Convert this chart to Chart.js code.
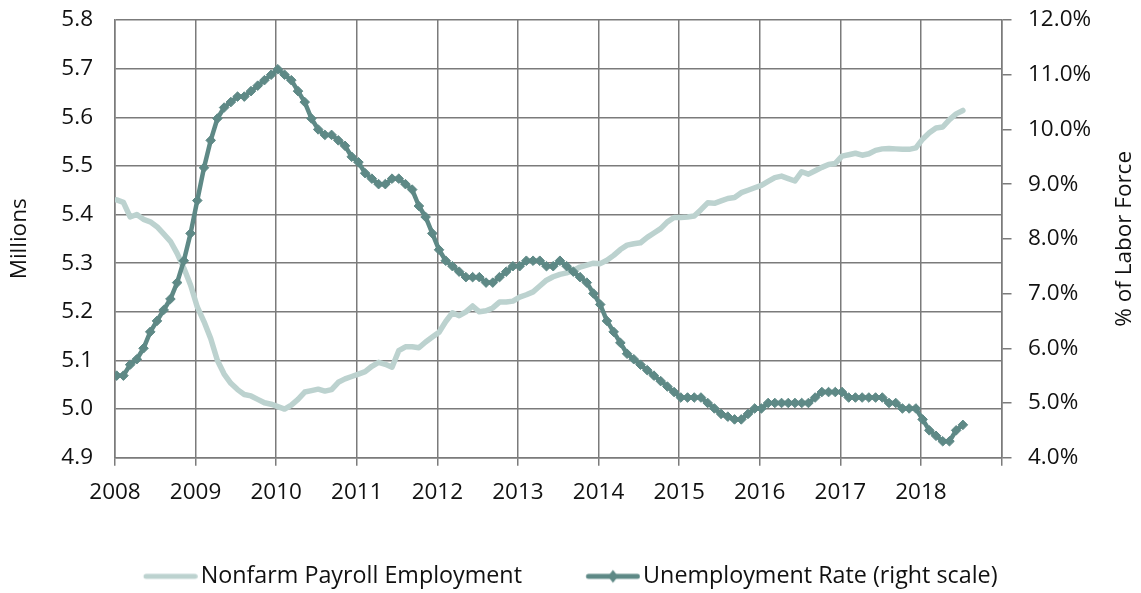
<!DOCTYPE html>
<html>
<head>
<meta charset="utf-8">
<script src="https://cdn.jsdelivr.net/npm/chart.js@4.4.1/dist/chart.umd.min.js"></script>
<style>
html,body{margin:0;padding:0;background:#ffffff;}
#wrap{width:1141px;height:593px;position:relative;}
</style>
</head>
<body>
<div id="wrap"><canvas id="c" width="1141" height="593"></canvas></div>
<script>
// ---- Data (monthly, Jan 2008 - Jul 2018) ----
const yearLabels = ['2008','2009','2010','2011','2012','2013','2014','2015','2016','2017','2018'];
const seriesNames = ['Nonfarm Payroll Employment', 'Unemployment Rate (right scale)'];
const leftTitle = 'Millions';
const rightTitle = '% of Labor Force';

const payroll = [
  5.430, 5.425, 5.395, 5.400, 5.390, 5.385, 5.375, 5.360, 5.345, 5.320, 5.290, 5.255,
  5.210, 5.180, 5.145, 5.100, 5.072, 5.053, 5.040, 5.030, 5.027, 5.020, 5.013, 5.010,
  5.005, 5.000, 5.008, 5.020, 5.035, 5.038, 5.041, 5.037, 5.040, 5.055, 5.062, 5.067,
  5.072, 5.077, 5.088, 5.096, 5.092, 5.086, 5.120, 5.128, 5.128, 5.126, 5.138, 5.148,
  5.158, 5.180, 5.198, 5.192, 5.200, 5.212, 5.200, 5.202, 5.208, 5.220, 5.220, 5.222,
  5.230, 5.235, 5.241, 5.253, 5.265, 5.272, 5.277, 5.280, 5.285, 5.292, 5.296, 5.300,
  5.299, 5.306, 5.316, 5.328, 5.337, 5.340, 5.342, 5.353, 5.362, 5.371, 5.385, 5.394,
  5.394, 5.395, 5.397, 5.410, 5.424, 5.423, 5.428, 5.433, 5.435, 5.445, 5.450, 5.455,
  5.460, 5.468, 5.476, 5.479, 5.474, 5.469, 5.488, 5.483, 5.490, 5.497, 5.503, 5.505,
  5.520, 5.523, 5.526, 5.522, 5.525, 5.532, 5.535, 5.536, 5.535, 5.534, 5.534, 5.537,
  5.555, 5.568, 5.578, 5.580, 5.595, 5.607, 5.614
];

const unemployment = [
  5.5, 5.5, 5.7, 5.8, 6.0, 6.3, 6.5, 6.7, 6.9, 7.2, 7.6, 8.1,
  8.7, 9.3, 9.8, 10.2, 10.4, 10.5, 10.6, 10.6, 10.7, 10.8, 10.9, 11.0,
  11.1, 11.0, 10.9, 10.7, 10.5, 10.2, 10.0, 9.9, 9.9, 9.8, 9.7, 9.5,
  9.4, 9.2, 9.1, 9.0, 9.0, 9.1, 9.1, 9.0, 8.9, 8.6, 8.4, 8.1,
  7.8, 7.6, 7.5, 7.4, 7.3, 7.3, 7.3, 7.2, 7.2, 7.3, 7.4, 7.5,
  7.5, 7.6, 7.6, 7.6, 7.5, 7.5, 7.6, 7.5, 7.4, 7.3, 7.2, 7.0,
  6.8, 6.5, 6.3, 6.1, 5.9, 5.8, 5.7, 5.6, 5.5, 5.4, 5.3, 5.2,
  5.1, 5.1, 5.1, 5.1, 5.0, 4.9, 4.8, 4.75, 4.7, 4.7, 4.8, 4.9,
  4.9, 5.0, 5.0, 5.0, 5.0, 5.0, 5.0, 5.0, 5.1, 5.2, 5.2, 5.2,
  5.2, 5.1, 5.1, 5.1, 5.1, 5.1, 5.1, 5.0, 5.0, 4.9, 4.9, 4.9,
  4.7, 4.5, 4.4, 4.3, 4.3, 4.5, 4.6
];

// ---- Styling ----
const LIGHT = '#bcd2cf';
const DARK = '#5e8986';
const GRID = '#7b7b7b';
const TEXT = '#111111';
const FONT = "'Open Sans', 'Liberation Sans', sans-serif";
const FS = 22.5;
const LEG_FS = 23.3;
const monthsPerYear = 12;

// month index -> x (observations sit a little after the first of the month)
function toPoints(arr) { return arr.map((v, i) => ({ x: i + 0.25, y: v })); }

// Legend sample images (line, and line with diamond)
const LEG_BOX = 45.5, LEG_LEN = 54;
function legendSample(color, withMarker) {
  const half = LEG_LEN - LEG_BOX / 2;
  const w = Math.ceil(half * 2), h = 16;
  const cv = document.createElement('canvas');
  cv.width = w; cv.height = h;
  const g = cv.getContext('2d');
  const x0 = w / 2 - LEG_BOX / 2, x1 = x0 + LEG_LEN;
  g.lineCap = 'round';
  g.lineWidth = 5;
  g.strokeStyle = color;
  g.beginPath(); g.moveTo(x0 + 2.5, h / 2); g.lineTo(x1 - 2.5, h / 2); g.stroke();
  if (withMarker) {
    const cx = (x0 + x1) / 2;
    g.fillStyle = color;
    g.beginPath();
    g.moveTo(cx, h / 2 - 6.5); g.lineTo(cx + 5, h / 2); g.lineTo(cx, h / 2 + 6.5); g.lineTo(cx - 5, h / 2);
    g.closePath(); g.fill();
  }
  return cv;
}
const samples = [legendSample(LIGHT, false), legendSample(DARK, true)];

const rightTitlePlugin = {
  id: 'rightTitle',
  afterDraw(chart) {
    const s = chart.scales.y1;
    const ctx = chart.ctx;
    ctx.save();
    ctx.font = FS + 'px ' + FONT;
    ctx.fillStyle = TEXT;
    ctx.textAlign = 'center';
    ctx.textBaseline = 'middle';
    ctx.translate(s.right - 16, (s.top + s.bottom) / 2);
    ctx.rotate(-Math.PI / 2);
    ctx.fillText(rightTitle, 0, 0);
    ctx.restore();
  }
};

const tickFont = { family: FONT, size: FS };

function fixVertical(width) {
  return function (s) {
    s.width = width;
    s.paddingTop = 0;
    s.paddingBottom = 0;
  };
}

new Chart(document.getElementById('c'), {
  type: 'line',
  data: {
    datasets: [
      {
        label: seriesNames[0],
        data: toPoints(payroll),
        yAxisID: 'y',
        borderColor: LIGHT,
        backgroundColor: LIGHT,
        borderWidth: 5.5,
        pointRadius: 0,
        borderJoinStyle: 'round',
        borderCapStyle: 'round',
        tension: 0,
        order: 1
      },
      {
        label: seriesNames[1],
        data: toPoints(unemployment),
        yAxisID: 'y1',
        borderColor: DARK,
        backgroundColor: DARK,
        borderWidth: 4.5,
        pointStyle: 'rectRot',
        pointRadius: 4.8,
        pointBorderWidth: 1,
        pointBackgroundColor: DARK,
        pointBorderColor: DARK,
        borderJoinStyle: 'round',
        tension: 0,
        order: 0
      }
    ]
  },
  options: {
    responsive: false,
    animation: false,
    devicePixelRatio: 1,
    layout: { padding: { top: 20, right: 0, bottom: -5, left: 0 } },
    plugins: {
      legend: {
        position: 'bottom',
        labels: {
          usePointStyle: true,
          pointStyleWidth: LEG_BOX,
          padding: 64,
          color: TEXT,
          font: { family: FONT, size: LEG_FS },
          sort: (a, b) => a.datasetIndex - b.datasetIndex,
          generateLabels(chart) {
            const items = Chart.defaults.plugins.legend.labels.generateLabels(chart);
            items.forEach((it) => { it.pointStyle = samples[it.datasetIndex]; });
            return items;
          }
        }
      },
      tooltip: { enabled: false }
    },
    scales: {
      x: {
        type: 'linear',
        min: 0,
        max: yearLabels.length * monthsPerYear,
        afterFit(s) { s.height = 43; },
        grid: { color: GRID, lineWidth: 1.5, tickLength: 8, drawTicks: true },
        border: { color: GRID, width: 1.5 },
        ticks: {
          stepSize: monthsPerYear,
          autoSkip: false,
          maxRotation: 0,
          padding: 13,
          color: TEXT,
          font: tickFont,
          callback: (v) => { const k = Math.round(v / monthsPerYear); return yearLabels[k] !== undefined ? yearLabels[k] : ''; }
        }
      },
      y: {
        position: 'left',
        min: 4.9,
        max: 5.8,
        afterFit: fixVertical(115),
        grid: { color: GRID, lineWidth: 1.5, drawTicks: false },
        border: { color: GRID, width: 1.5 },
        ticks: { stepSize: 0.1, padding: 22, color: TEXT, font: tickFont, callback: (v) => Number(v).toFixed(1) },
        title: { display: true, text: leftTitle, color: TEXT, font: tickFont, padding: { top: 6.5, bottom: 0 } }
      },
      y1: {
        position: 'right',
        min: 4,
        max: 12,
        afterFit: fixVertical(139.5),
        grid: { drawOnChartArea: false, color: GRID, lineWidth: 1.5, tickLength: 10, drawTicks: true },
        border: { color: GRID, width: 1.5 },
        ticks: { stepSize: 1, padding: 16.5, color: TEXT, font: tickFont, callback: (v) => Number(v).toFixed(1) + '%' }
      }
    }
  },
  plugins: [rightTitlePlugin]
});
</script>
</body>
</html>
